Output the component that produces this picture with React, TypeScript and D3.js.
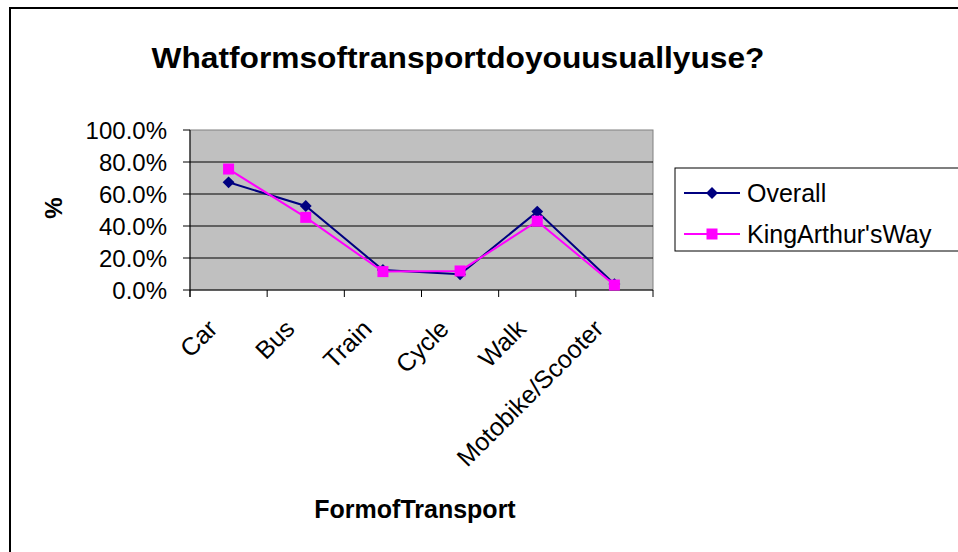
import React from 'react';
import * as d3 from 'd3';

const categories = ['Car', 'Bus', 'Train', 'Cycle', 'Walk', 'Motobike/Scooter'];
const overall = [0.673, 0.525, 0.125, 0.098, 0.49, 0.037];
const kingArthur = [0.756, 0.454, 0.115, 0.119, 0.43, 0.031];
const yTicks = [0, 0.2, 0.4, 0.6, 0.8, 1.0];

const seriesList = [
  { name: 'Overall', values: overall, color: '#000080', marker: 'diamond' },
  { name: "KingArthur'sWay", values: kingArthur, color: '#FF00FF', marker: 'square' },
];

const W = 958;
const H = 552;
const plot = { left: 190, right: 653, top: 130, bottom: 290 };
const font = 'Arial, "Liberation Sans", sans-serif';

export default function App() {
  const x = d3.scaleBand().domain(categories).range([plot.left, plot.right]);
  const y = d3.scaleLinear().domain([0, 1]).range([plot.bottom, plot.top]);
  const fmt = d3.format('.1%');

  const line = d3.line<number>()
    .x((d, i) => (x(categories[i]) as number) + x.bandwidth() / 2)
    .y(d => y(d));

  const diamond = d3.symbol().type(d3.symbolDiamond2).size(90)();

  const drawMarker = (kind: string, cx: number, cy: number, color: string, key: string) =>
    kind === 'diamond'
      ? <path key={key} d={diamond as string} transform={`translate(${cx},${cy})`} fill={color} />
      : <rect key={key} x={cx - 5.5} y={cy - 5.5} width={11} height={11} fill={color} />;

  const edges = categories.map(c => x(c) as number).concat([plot.right]);

  return (
    <svg width={W} height={H} style={{ position: 'absolute', left: 0, top: 0 }} fontFamily={font}>
      <rect x={0} y={0} width={W} height={H} fill="#fff" />
      {/* outer chart border */}
      <rect x={10} y={8} width={W + 10} height={H + 10} fill="none" stroke="#000" strokeWidth={2} />

      <text x={458} y={68} textAnchor="middle" fontWeight="bold" fontSize={30} textLength={613} lengthAdjust="spacingAndGlyphs">
        Whatformsoftransportdoyouusuallyuse?
      </text>

      {/* plot area */}
      <rect x={plot.left} y={plot.top} width={plot.right - plot.left} height={plot.bottom - plot.top}
        fill="#C0C0C0" stroke="#808080" strokeWidth={1} />
      {yTicks.map(t => (
        <g key={t}>
          {t > 0 && t < 1 && <line x1={plot.left} x2={plot.right} y1={y(t)} y2={y(t)} stroke="#000" strokeWidth={1} />}
          <line x1={plot.left - 7} x2={plot.left} y1={y(t)} y2={y(t)} stroke="#000" strokeWidth={1} />
          <text x={167} y={y(t)} dy="0.36em" textAnchor="end" fontSize={24}>{fmt(t)}</text>
        </g>
      ))}
      <line x1={plot.left} x2={plot.left} y1={plot.top} y2={plot.bottom + 7} stroke="#000" strokeWidth={1} />
      <line x1={plot.left} x2={plot.right} y1={plot.bottom} y2={plot.bottom} stroke="#000" strokeWidth={1} />
      {edges.map((e, i) => (
        <line key={i} x1={e} x2={e} y1={plot.bottom} y2={plot.bottom + 7} stroke="#000" strokeWidth={1} />
      ))}

      {categories.map(c => {
        const cx = (x(c) as number) + x.bandwidth() / 2;
        return (
          <text key={c} transform={`translate(${cx - 22},${plot.bottom + 28}) rotate(-45)`}
            textAnchor="end" dy="0.7em" fontSize={25}>{c}</text>
        );
      })}

      <text transform={`translate(62,208) rotate(-90)`} textAnchor="middle" fontWeight="bold" fontSize={24}>%</text>
      <text x={415} y={518} textAnchor="middle" fontWeight="bold" fontSize={25}>FormofTransport</text>

      {seriesList.map(s => (
        <g key={s.name}>
          <path d={line(s.values) as string} fill="none" stroke={s.color} strokeWidth={2} />
          {s.values.map((v, i) =>
            drawMarker(s.marker, (x(categories[i]) as number) + x.bandwidth() / 2, y(v), s.color, s.name + i))}
        </g>
      ))}

      {/* legend */}
      <rect x={675} y={168} width={300} height={83} fill="#fff" stroke="#000" strokeWidth={1} />
      {seriesList.map((s, i) => {
        const ly = 193 + i * 41;
        return (
          <g key={s.name}>
            <line x1={684} x2={740} y1={ly} y2={ly} stroke={s.color} strokeWidth={2} />
            {drawMarker(s.marker, 712, ly, s.color, 'lg' + i)}
            <text x={747} y={ly} dy="0.36em" fontSize={25}>{s.name}</text>
          </g>
        );
      })}
    </svg>
  );
}
